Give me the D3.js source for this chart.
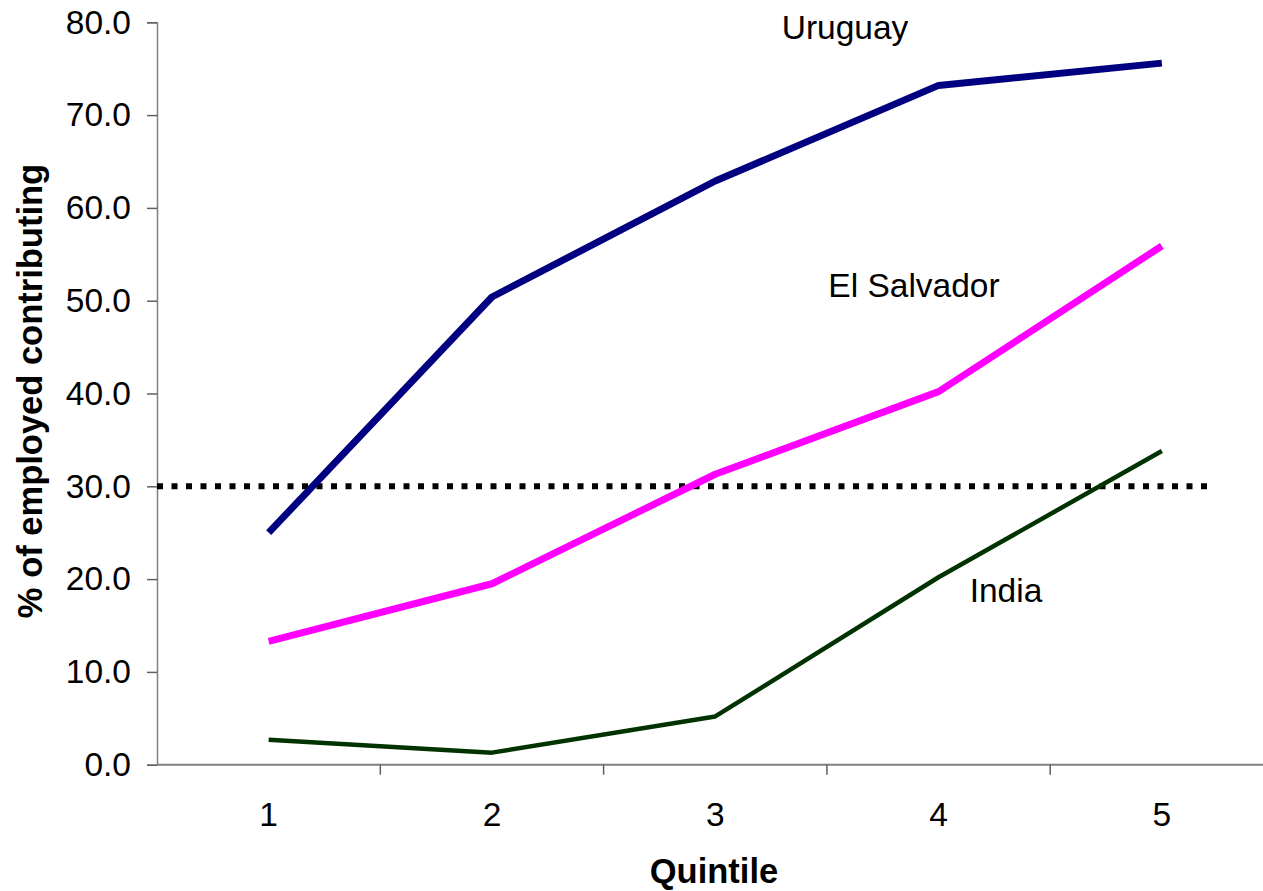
<!DOCTYPE html>
<html>
<head>
<meta charset="utf-8">
<script src="https://cdn.jsdelivr.net/npm/d3@7"></script>
<style>
  html, body { margin: 0; padding: 0; background: #fff; }
  svg { display: block; font-family: Arial, "Liberation Sans", sans-serif; }
</style>
</head>
<body>
<svg id="chart" width="1263" height="891"></svg>
<script>
// Share of employed contributing, by income quintile
const quintiles = ["1", "2", "3", "4", "5"];
const uruguay    = [25.0, 50.4, 62.9, 73.2, 75.6];
const elSalvador = [13.3, 19.5, 31.3, 40.2, 55.9];
const india      = [2.7, 1.3, 5.2, 20.2, 33.8];
const yTicks = [0, 10, 20, 30, 40, 50, 60, 70, 80];
const threshold = 30;

const series = [
  { name: "Uruguay",     values: uruguay,    color: "#000080", width: 7,   label: [845, 27] },
  { name: "El Salvador", values: elSalvador, color: "#ff00ff", width: 7,   label: [914, 285] },
  { name: "India",       values: india,      color: "#003300", width: 4.5, label: [1006, 590] }
];

const svg = d3.select("#chart");
const x0 = 157, x1 = 1273.5, yTop = 22.3, yBottom = 764.7;
const fontSize = 33.5, titleSize = 34.5;

const x = d3.scaleBand().domain(quintiles).range([x0, x1]).paddingInner(0).paddingOuter(0);
const y = d3.scaleLinear().domain([0, 80]).range([yBottom, yTop]);
const xc = d => x(d) + x.bandwidth() / 2;

// Y axis
const yAxis = svg.append("g")
  .attr("transform", `translate(${x0},0)`)
  .call(d3.axisLeft(y).tickValues(yTicks).tickFormat(d3.format(".1f")).tickSize(10).tickPadding(16));
yAxis.select(".domain").attr("stroke", "#808080").attr("stroke-width", 1.5);
yAxis.selectAll(".tick line").attr("stroke", "#606060").attr("stroke-width", 1.5);
yAxis.selectAll(".tick text").attr("font-size", fontSize).attr("fill", "#000")
  .attr("font-family", "Arial, 'Liberation Sans', sans-serif");

// X axis: ticks between categories
const xAxisG = svg.append("g").attr("transform", `translate(0,${yBottom})`);
xAxisG.append("line").attr("x1", x0).attr("x2", x1).attr("y1", 0).attr("y2", 0)
  .attr("stroke", "#808080").attr("stroke-width", 2);
xAxisG.selectAll("line.tk").data(quintiles.slice(1)).enter().append("line")
  .attr("class", "tk")
  .attr("x1", d => x(d)).attr("x2", d => x(d))
  .attr("y1", 0).attr("y2", 10)
  .attr("stroke", "#606060").attr("stroke-width", 1.5);
xAxisG.selectAll("text").data(quintiles).enter().append("text")
  .attr("x", d => xc(d)).attr("y", 61)
  .attr("text-anchor", "middle").attr("font-size", fontSize).attr("fill", "#000")
  .text(d => d);

// Threshold line
svg.append("line")
  .attr("x1", x0).attr("x2", xc("5") + 46)
  .attr("y1", y(threshold)).attr("y2", y(threshold))
  .attr("stroke", "#000").attr("stroke-width", 6)
  .attr("stroke-dasharray", "6 8.5");

// Series lines
const line = d3.line().x((d, i) => xc(quintiles[i])).y(d => y(d));
series.forEach(s => {
  svg.append("path").datum(s.values)
    .attr("d", line)
    .attr("fill", "none")
    .attr("stroke", s.color)
    .attr("stroke-width", s.width)
    .attr("stroke-linejoin", "bevel");
  svg.append("text")
    .attr("x", s.label[0]).attr("y", s.label[1])
    .attr("dy", "0.35em")
    .attr("text-anchor", "middle")
    .attr("font-size", fontSize).attr("fill", "#000")
    .text(s.name);
});

// Axis titles
svg.append("text")
  .attr("transform", `translate(30,391) rotate(-90)`)
  .attr("dy", "0.35em")
  .attr("text-anchor", "middle")
  .attr("font-size", titleSize).attr("font-weight", "bold")
  .text("% of employed contributing");

svg.append("text")
  .attr("x", 714).attr("y", 871)
  .attr("dy", "0.35em")
  .attr("text-anchor", "middle")
  .attr("font-size", titleSize).attr("font-weight", "bold")
  .text("Quintile");
</script>
</body>
</html>
